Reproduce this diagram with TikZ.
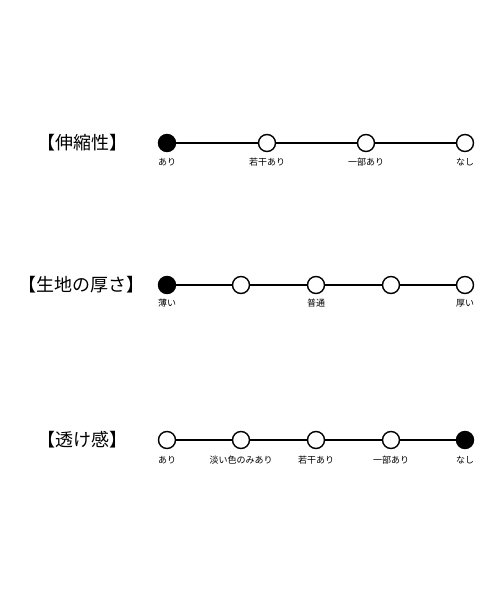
\documentclass[tikz,border=0pt]{standalone}
\usepackage{fontspec}
\setmainfont{Noto Sans CJK JP}
\begin{document}
\begin{tikzpicture}[x=1pt,y=-1pt,
  dot/.style={circle,draw=black,line width=1.4pt,fill=white,minimum size=17pt,inner sep=0pt},
  full/.style={dot,fill=black},
  bar/.style={line width=1.4pt},
  ttl/.style={font=\fontsize{18}{20}\selectfont,anchor=center},
  lbl/.style={font=\fontsize{9}{10}\selectfont,anchor=center}]
\useasboundingbox (0,0) rectangle (500,600);
% row 1
\node[ttl] (t1) at (82,143) {【伸縮性】};
\node[full] (a1) at (167,143) {};
\node[dot] (a2) at (267,143) {};
\node[dot] (a3) at (366,143) {};
\node[dot] (a4) at (465,143) {};
\draw[bar] (a1) -- (a2);
\draw[bar] (a2) -- (a3);
\draw[bar] (a3) -- (a4);
\node[lbl] (l11) at (167,162) {あり};
\node[lbl] (l12) at (267,162) {若干あり};
\node[lbl] (l13) at (366,162) {一部あり};
\node[lbl] (l14) at (465,162) {なし};
% row 2
\node[ttl] (t2) at (82,285) {【生地の厚さ】};
\node[full] (b1) at (167,285) {};
\node[dot] (b2) at (241,285) {};
\node[dot] (b3) at (316,285) {};
\node[dot] (b4) at (391,285) {};
\node[dot] (b5) at (465,285) {};
\draw[bar] (b1) -- (b2);
\draw[bar] (b2) -- (b3);
\draw[bar] (b3) -- (b4);
\draw[bar] (b4) -- (b5);
\node[lbl] (l21) at (167,303) {薄い};
\node[lbl] (l23) at (316,303) {普通};
\node[lbl] (l25) at (465,303) {厚い};
% row 3
\node[ttl] (t3) at (82,440) {【透け感】};
\node[dot] (c1) at (167,440) {};
\node[dot] (c2) at (241,440) {};
\node[dot] (c3) at (316,440) {};
\node[dot] (c4) at (391,440) {};
\node[full] (c5) at (465,440) {};
\draw[bar] (c1) -- (c2);
\draw[bar] (c2) -- (c3);
\draw[bar] (c3) -- (c4);
\draw[bar] (c4) -- (c5);
\node[lbl] (l31) at (167,460) {あり};
\node[lbl] (l32) at (241,460) {淡い色のみあり};
\node[lbl] (l33) at (316,460) {若干あり};
\node[lbl] (l34) at (391,460) {一部あり};
\node[lbl] (l35) at (465,460) {なし};
\end{tikzpicture}
\end{document}
